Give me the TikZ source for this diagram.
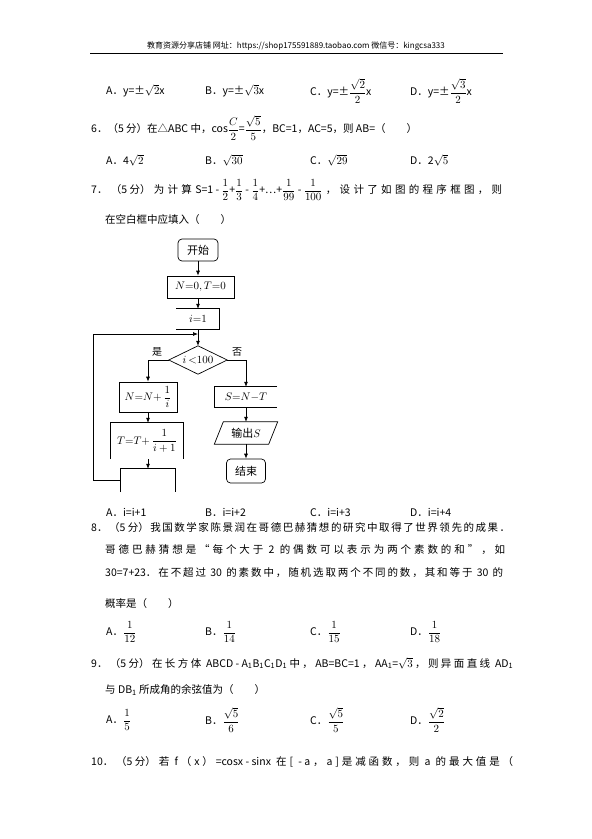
\documentclass[tikz,border=0pt]{standalone}
\usepackage{amsmath}
\usepackage{fontspec}
\setmainfont{Noto Sans CJK SC}
\usetikzlibrary{arrows.meta}
\makeatletter
\def\spr@stop{\spr@stop}
\def\spr#1{\def\spr@tmp{#1}\ifx\spr@tmp\spr@stop\else#1\hskip 0pt plus 1fil\expandafter\spr\fi}
\newcommand\jl[2]{\hbox to #1{\spr#2\spr@stop\unskip}}
\makeatother
\begin{document}
\begin{tikzpicture}[x=1pt,y=-1pt,font=\fontsize{10.5}{12}\selectfont,
  txt/.style={anchor=west,inner sep=0pt},
  ln/.style={line width=0.7pt},
  box/.style={draw,line width=0.7pt,inner sep=0pt},
  arr/.style={-{Latex[length=5pt,width=4pt]},line width=0.7pt},
  fc/.style={font=\fontsize{11}{12}\selectfont}]
\useasboundingbox[fill=white] (0,0) rectangle (592,839);
% header
\node[font=\fontsize{8}{9}\selectfont,inner sep=0pt] (hdr) at (296,46) {教育资源分享店铺 网址：https://shop175591889.taobao.com 微信号：kingcsa333};
\coordinate (hl) at (90,53); \coordinate (hr) at (503,53);
\draw[line width=0.8pt] (hl) -- (hr);
% Q5 options
\node[txt] (q5a) at (106,91) {A．y=±$\sqrt{2}$x};
\node[txt] (q5b) at (205,91) {B．y=±$\sqrt{3}$x};
\node[txt] (q5c) at (310,91) {C．y=±$\dfrac{\sqrt{2}}{2}$x};
\node[txt] (q5d) at (410,91) {D．y=±$\dfrac{\sqrt{3}}{2}$x};
% Q6
\node[txt] (q6) at (91,128) {6．（5 分）在△ABC 中，cos$\dfrac{C}{2}$=$\dfrac{\sqrt{5}}{5}$，BC=1，AC=5，则 AB=（\qquad）};
\node[txt] (q6a) at (106,160) {A．4$\sqrt{2}$};
\node[txt] (q6b) at (205,160) {B．$\sqrt{30}$};
\node[txt] (q6c) at (310,160) {C．$\sqrt{29}$};
\node[txt] (q6d) at (410,160) {D．2$\sqrt{5}$};
% Q7
\node[txt] (q7l1) at (91,190) {\jl{411pt}{{7．}{（5 分）}为计算{S=1 - $\dfrac{1}{2}$+$\dfrac{1}{3}$ - $\dfrac{1}{4}$+…+$\dfrac{1}{99}$ - $\dfrac{1}{100}$}，设计了如图的程序框图，则}};
\node[txt] (q7l2) at (105,220) {在空白框中应填入（\qquad）};
% flowchart
\begin{scope}[fc]
\node[box,rounded corners=4pt,minimum width=40,minimum height=22] (start) at (198,250) {开始};
\node[box,minimum width=67,minimum height=22] (init) at (200.5,287) {$N{=}0,T{=}0$};
\node[inner sep=0pt,minimum width=43,minimum height=20] (i1) at (198,319) {$i{=}1$};
\draw[ln] (i1.north west) -- (i1.north east) -- (i1.south east) -- (i1.south west);
\node[inner sep=0pt,minimum width=58,minimum height=28] (dec) at (198,360) {$i\,{<}100$};
\draw[ln] (dec.west) -- (dec.north) -- (dec.east) -- (dec.south) -- cycle;
\node[box,minimum width=58,minimum height=30] (nb) at (148,397) {$N{=}N{+}\,\dfrac{1}{i}$};
\node[inner sep=0pt,minimum width=72,minimum height=36] (tb) at (147,441) {$T{=}T{+}\,\dfrac{1}{i+1}$};
\draw[ln] (tb.south west) -- (tb.north west) -- (tb.north east) -- (tb.south east);
\node[inner sep=0pt,minimum width=54,minimum height=23] (eb) at (148,480.5) {};
\draw[ln] (eb.south west) -- (eb.north west) -- (eb.north east) -- (eb.south east);
\node[inner sep=0pt,minimum width=62,minimum height=20] (sb) at (246,397) {$S{=}N{-}T$};
\draw[ln] (sb.north east) -- (sb.north west) -- (sb.south west) -- (sb.south east);
\node[inner sep=0pt,minimum width=54,minimum height=22] (out) at (246,433) {输出$S$};
\draw[ln] ([xshift=-4.5pt]out.south west) -- ([xshift=4.5pt]out.north west) -- ([xshift=4.5pt]out.north east) -- ([xshift=-4.5pt]out.south east) -- cycle;
\node[box,rounded corners=4pt,minimum width=39,minimum height=24] (end) at (246,471) {结束};
\node[font=\fontsize{10}{11}\selectfont] (yes) at (157,352) {是};
\node[font=\fontsize{10}{11}\selectfont] (no) at (237,352) {否};
\coordinate (lp) at (93,480); \coordinate (lq) at (93,334);
\draw[arr] (start.south) -- (start.south |- init.north);
\draw[arr] (init.south -| i1.north) -- (i1.north);
\draw[arr] (i1.south -| dec.north) -- (dec.north);
\draw[arr] (eb.west |- lp) -- (lp) -- (lq) -- (lq -| dec.north);
\draw[arr] (dec.west) -| (nb.north);
\draw[arr] (dec.east) -| (sb.north);
\draw[arr] (nb.south) -- (nb.south |- tb.north);
\draw[arr] (nb.south |- tb.south) -- (nb.south |- eb.north);
\draw[arr] (sb.south) -- (sb.south |- out.north);
\draw[arr] (out.south -| end.north) -- (end.north);
\end{scope}
% Q7 options
\node[txt] (q7a) at (106,512) {A．i=i+1};
\node[txt] (q7b) at (205,512) {B．i=i+2};
\node[txt] (q7c) at (310,512) {C．i=i+3};
\node[txt] (q7d) at (410,512) {D．i=i+4};
% Q8
\node[txt] (q8l1) at (91,528) {\jl{419pt}{{8．}{（5 分）}我国数学家陈景润在哥德巴赫猜想的研究中取得了世界领先的成果．}};
\node[txt] (q8l2) at (105,550) {\jl{400pt}{哥德巴赫猜想是“每个大于{ 2 }的偶数可以表示为两个素数的和”，如}};
\node[txt] (q8l3) at (105,573) {\jl{398pt}{{30=7+23．}在不超过{ 30 }的素数中，随机选取两个不同的数，其和等于{ 30 }的}};
\node[txt] (q8l4) at (105,604) {概率是（\qquad）};
\node[txt] (q8a) at (106,632) {A．$\dfrac{1}{12}$};
\node[txt] (q8b) at (205,632) {B．$\dfrac{1}{14}$};
\node[txt] (q8c) at (310,632) {C．$\dfrac{1}{15}$};
\node[txt] (q8d) at (410,632) {D．$\dfrac{1}{18}$};
% Q9
\node[txt] (q9l1) at (91,663) {\jl{422pt}{{9．}{（5 分）}在长方体{ ABCD - A\textsubscript{1}B\textsubscript{1}C\textsubscript{1}D\textsubscript{1}}中，{AB=BC=1}，{AA\textsubscript{1}=$\sqrt{3}$}，则异面直线{ AD\textsubscript{1}}}};
\node[txt] (q9l2) at (105,690) {与 DB\textsubscript{1} 所成角的余弦值为（\qquad）};
\node[txt] (q9a) at (106,720) {A．$\dfrac{1}{5}$};
\node[txt] (q9b) at (205,720) {B．$\dfrac{\sqrt{5}}{6}$};
\node[txt] (q9c) at (310,720) {C．$\dfrac{\sqrt{5}}{5}$};
\node[txt] (q9d) at (410,720) {D．$\dfrac{\sqrt{2}}{2}$};
% Q10
\node[txt] (q10) at (91,762) {\jl{422pt}{{10．}{（5 分）}若{ f}（x）{=cosx - sinx }在[{ - a}，a]是减函数，则{ a }的最大值是（}};
\end{tikzpicture}
\end{document}
